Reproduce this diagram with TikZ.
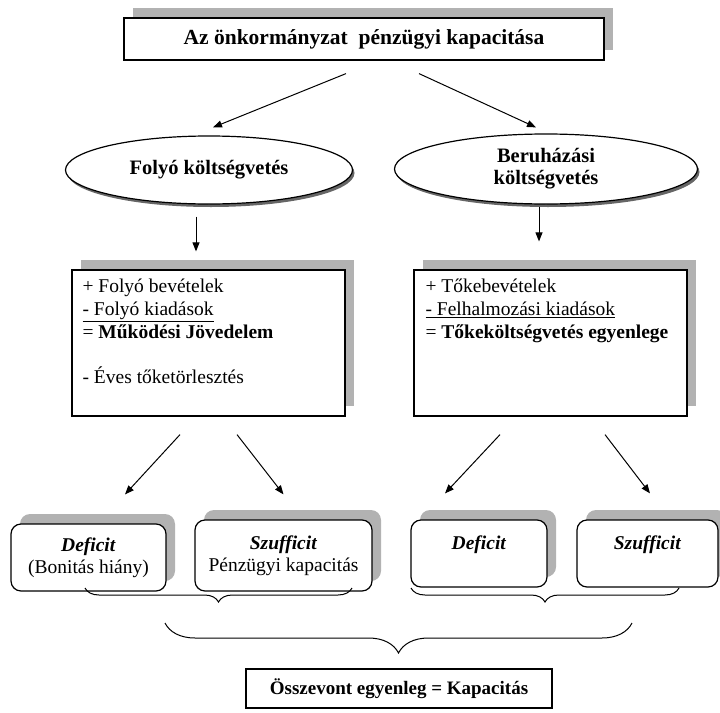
\documentclass[tikz,border=0pt]{standalone}
\usepackage{fontspec}
\setmainfont{Liberation Serif}
\usetikzlibrary{shapes.geometric,shadows,arrows.meta,decorations.pathreplacing}

\tikzset{
  shadowbox/.style={draw, line width=1.2pt, fill=white,
    drop shadow={shadow xshift=9pt, shadow yshift=10pt, fill=black!30, opacity=1}},
  ovalbox/.style={ellipse, draw, line width=1.2pt, fill=white, inner sep=0pt, align=center,
    font=\fontsize{20.5}{22}\selectfont\bfseries,
    drop shadow={shadow xshift=2pt, shadow yshift=-3pt, fill=black!60, opacity=1}},
  roundbox/.style={shadowbox, rounded corners=10pt, align=center,
    font=\fontsize{19.5}{22}\selectfont},
  listtext/.style={anchor=north west, align=left, inner sep=0pt,
    font=\fontsize{19.5}{23}\selectfont},
  arr/.style={-{Triangle[length=9pt,width=7pt]}, line width=1pt},
  curly/.style={decorate, decoration={brace, mirror, amplitude=#1}, line width=1pt}
}

\begin{document}
\begin{tikzpicture}[x=1pt, y=-1pt]
  \useasboundingbox (0,0) rectangle (720,712);

  \node [shadowbox, minimum width=480pt, minimum height=42pt,
    font=\fontsize{21.5}{24}\selectfont\bfseries] (title) at (364,39)
    {Az önkormányzat\ \ pénzügyi kapacitása};

  \node [ovalbox, minimum width=287pt, minimum height=68pt] (folyo) at (209,170)
    {Folyó költségvetés};
  \node [ovalbox, minimum width=303pt, minimum height=70pt] (beruh) at (546,169)
    {Beruházási\\költségvetés};

  \draw [arr] ([xshift=-18pt,yshift=-13pt]title.south) -- ([xshift=4pt,yshift=8pt]folyo.north);
  \draw [arr] ([xshift=55pt,yshift=-13pt]title.south) -- ([xshift=-10pt,yshift=6pt]beruh.north);

  % current budget
  \node [shadowbox, minimum width=273pt, minimum height=146pt] (fbox) at (208.5,343) {};
  \node [listtext] (ftext) at ([xshift=11pt,yshift=-9pt]fbox.north west)
    {+ Folyó bevételek\\
     \underline{- Folyó kiadások}\\
     = \textbf{Működési Jövedelem}\\[22pt]
     - Éves tőketörlesztés};

  % capital budget
  \node [shadowbox, minimum width=273pt, minimum height=146pt] (tbox) at (550.5,343) {};
  \node [listtext] (ttext) at ([xshift=12pt,yshift=-9pt]tbox.north west)
    {+ Tőkebevételek\\
     \underline{- Felhalmozási kiadások}\\
     = \textbf{Tőkeköltségvetés egyenlege}};

  \draw [arr] ([xshift=-13pt,yshift=-12pt]folyo.south) -- ([xshift=-12.5pt,yshift=18pt]fbox.north);
  \draw [arr] ([xshift=-7pt,yshift=-2pt]beruh.south) -- ([xshift=-11.5pt,yshift=28pt]tbox.north);

  \node [roundbox, minimum width=155pt, minimum height=67pt] (def1) at (88.5,557.5)
    {\textbf{\textit{Deficit}}\\(Bonitás hiány)};
  \node [roundbox, minimum width=177pt, minimum height=71pt] (szu1) at (283.5,555.5)
    {\textbf{\textit{Szufficit}}\\Pénzügyi kapacitás};
  \node [roundbox, minimum width=136pt, minimum height=67pt] (def2) at (479,553.5)
    {\textbf{\textit{Deficit}}\\ \mbox{}};
  \node [roundbox, minimum width=141pt, minimum height=67pt] (szu2) at (647.5,553.5)
    {\textbf{\textit{Szufficit}}\\ \mbox{}};

  \draw [arr] ([xshift=-28.5pt,yshift=-18pt]fbox.south) -- ([xshift=36.5pt,yshift=29pt]def1.north);
  \draw [arr] ([xshift=28.5pt,yshift=-18pt]fbox.south) -- ([yshift=25pt]szu1.north);
  \draw [arr] ([xshift=-50.5pt,yshift=-18pt]tbox.south) -- ([xshift=-34pt,yshift=26pt]def2.north);
  \draw [arr] ([xshift=54.5pt,yshift=-18pt]tbox.south) -- ([xshift=2.5pt,yshift=26pt]szu2.north);

  % braces
  \draw [curly=14pt] (85,588) -- (352,588);
  \draw [curly=14pt] (411,588) -- (679,588);
  \draw [curly=30pt] (165,623) -- (632,623);

  \node [draw, line width=1.2pt, minimum width=306pt, minimum height=39pt,
    font=\fontsize{19}{21}\selectfont\bfseries] (total) at (399,688.5)
    {Összevont egyenleg = Kapacitás};
\end{tikzpicture}
\end{document}
